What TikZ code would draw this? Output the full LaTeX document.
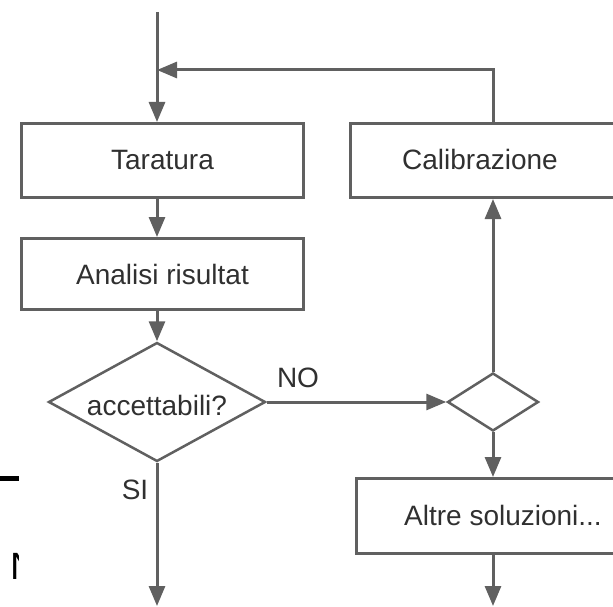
\documentclass[tikz,border=0pt]{standalone}
\usepackage{fontspec}
\setmainfont{Liberation Sans}
\usetikzlibrary{arrows.meta,shapes.geometric}
\definecolor{ln}{HTML}{606060}
\definecolor{tx}{HTML}{303030}
\begin{document}
\begin{tikzpicture}[x=1pt,y=-1pt,
  box/.style={draw=ln,line width=3pt,rectangle,inner sep=0pt,anchor=north west},
  dia/.style={draw=ln,line width=2.5pt,diamond,inner sep=0pt,text=tx,font=\fontsize{28}{30}\selectfont},
  txt/.style={text=tx,font=\fontsize{28}{30}\selectfont,inner sep=0pt},
  arr/.style={draw=ln,line width=3pt,-{Triangle[length=20pt,width=16pt]}},
  ln/.style={draw=ln,line width=3pt}]
\useasboundingbox (0,0) rectangle (613,607);
% boxes
\node[box,minimum width=282pt,minimum height=74pt] (tar) at (20,122) {};
\node[txt] (tart) at (tar.center) {Taratura};
\node[box,minimum width=282pt,minimum height=71pt] (ana) at (20,237) {};
\node[txt] (anat) at (ana.center) {Analisi risultat};
\node[box,minimum width=290pt,minimum height=74pt] (cal) at (349,122) {};
\node[txt] (calt) at (480,159) {Calibrazione};
\node[box,minimum width=285pt,minimum height=75pt] (alt) at (355,477) {};
\node[txt] (altt) at (503,515) {Altre soluzioni...};
% decisions
\node[dia,aspect=1.82,minimum width=217pt,minimum height=119pt] (dec) at (157,402) {};
\node[txt] (dect) at (157,405) {accettabili?};
\node[dia,aspect=1.57,minimum width=91pt,minimum height=58pt] (dec2) at (493,402) {};
% coordinates
\coordinate (top) at (157,12);
\coordinate (fb) at (157,70);
\coordinate (bl) at (157,606);
\coordinate (br) at (493,606);
% connectors
\draw[ln] (top) -- (fb);
\draw[arr] (fb) -- (tar.north -| top);
\draw[arr] (dec2.north |- cal.north) |- (fb);
\draw[arr] (tar.south -| top) -- (ana.north -| top);
\draw[arr] (ana.south -| top) -- (dec.north);
\draw[arr] (dec.east) -- (dec2.west);
\draw[arr] (dec2.north) -- (dec2.north |- cal.south);
\draw[arr] (dec2.south) -- (dec2.south |- alt.north);
\draw[arr] (dec.south) -- (bl);
\draw[arr] (dec2.south |- alt.south) -- (br);
% labels
\node[txt] (no) at (298,378) {NO};
\node[txt] (si) at (135,490) {SI};
% fragments at left edge
\fill[black] (0,476) rectangle (19,481);
\begin{scope}
\clip (0,540) rectangle (18.5,590);
\node[inner sep=0pt,anchor=base west,font=\fontsize{38}{40}\selectfont] (frag) at (10,579) {N};
\end{scope}
\end{tikzpicture}
\end{document}
